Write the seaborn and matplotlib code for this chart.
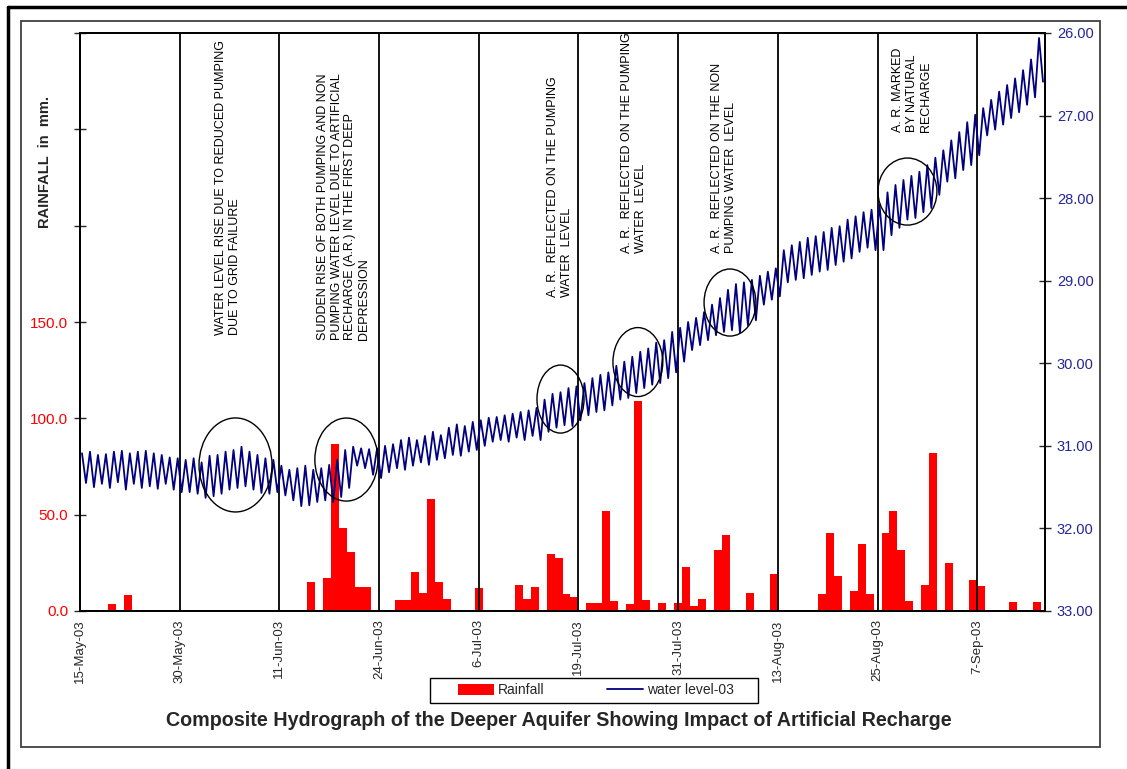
import numpy as np
import pandas as pd
import seaborn as sns
import matplotlib.pyplot as plt
from matplotlib.patches import Ellipse, Rectangle
from matplotlib.lines import Line2D

# category axis labels, one every 25 readings (two readings a day)
date_labels = ['15-May-03', '30-May-03', '11-Jun-03', '24-Jun-03', '6-Jul-03',
               '19-Jul-03', '31-Jul-03', '13-Aug-03', '25-Aug-03', '7-Sep-03']

# daily rainfall in mm, day 0 = 15-May-03
rainfall = [0, 0, 0, 3.6, 0, 8.3, 0, 0, 0, 0,
            0, 0, 0, 0, 0, 0, 0, 0, 0, 0,
            0, 0, 0, 0, 0, 0, 0, 0, 15.0, 0,
            17.1, 86.7, 43.1, 30.6, 12.5, 12.5, 0, 0, 0, 5.7,
            5.7, 20.2, 9.3, 58.1, 15.0, 6.2, 0, 0, 0, 11.9,
            0, 0, 0, 0, 13.5, 6.2, 12.5, 0, 29.6, 27.5,
            8.8, 7.3, 0, 4.2, 4.2, 51.9, 5.2, 0, 3.6, 109.0,
            5.7, 0, 4.2, 0, 4.2, 22.8, 2.6, 6.2, 0, 31.7,
            39.4, 0, 0, 9.3, 0, 0, 19.2, 0, 0, 0,
            0, 0, 8.8, 40.5, 18.2, 0, 10.4, 34.8, 8.8, 0,
            40.5, 51.9, 31.7, 5.2, 0, 13.5, 82.0, 0, 24.9, 0,
            0, 16.1, 13.0, 0, 0, 0, 4.7, 0, 0, 4.7,
            0]

# water level (m below ground), non pumping and pumping reading of each day
wl_non_pumping = [31.09, 31.07, 31.11, 31.10, 31.07, 31.06, 31.09, 31.07, 31.06, 31.09,
                  31.11, 31.14, 31.15, 31.17, 31.15, 31.20, 31.12, 31.11, 31.07, 31.05,
                  31.01, 31.07, 31.11, 31.15, 31.17, 31.24, 31.29, 31.27, 31.24, 31.29,
                  31.27, 31.23, 31.17, 31.05, 31.01, 31.03, 31.04, 31.03, 31.00, 30.98,
                  30.93, 30.90, 30.93, 30.88, 30.83, 30.87, 30.78, 30.74, 30.76, 30.71,
                  30.69, 30.66, 30.65, 30.63, 30.61, 30.59, 30.57, 30.54, 30.44, 30.37,
                  30.35, 30.30, 30.28, 30.24, 30.18, 30.14, 30.11, 30.03, 29.98, 29.92,
                  29.86, 29.82, 29.75, 29.72, 29.62, 29.57, 29.50, 29.45, 29.38, 29.29,
                  29.21, 29.11, 29.04, 29.02, 28.99, 28.94, 28.89, 28.85, 28.63, 28.57,
                  28.53, 28.48, 28.46, 28.41, 28.36, 28.34, 28.26, 28.22, 28.17, 28.14,
                  28.08, 27.93, 27.84, 27.78, 27.73, 27.68, 27.60, 27.51, 27.42, 27.30,
                  27.20, 27.08, 26.99, 26.91, 26.81, 26.71, 26.63, 26.55, 26.45, 26.32,
                  26.06]
wl_pumping = [31.45, 31.50, 31.46, 31.51, 31.44, 31.53, 31.46, 31.51, 31.49, 31.52,
              31.46, 31.53, 31.56, 31.56, 31.58, 31.63, 31.61, 31.58, 31.53, 31.51,
              31.49, 31.53, 31.57, 31.58, 31.56, 31.60, 31.66, 31.73, 31.72, 31.68,
              31.66, 31.68, 31.62, 31.51, 31.24, 31.27, 31.35, 31.39, 31.32, 31.27,
              31.29, 31.24, 31.20, 31.23, 31.17, 31.15, 31.11, 31.12, 31.07, 31.05,
              31.00, 30.95, 30.93, 30.95, 30.90, 30.93, 30.88, 30.93, 30.83, 30.78,
              30.75, 30.76, 30.69, 30.63, 30.59, 30.57, 30.51, 30.44, 30.42, 30.36,
              30.30, 30.26, 30.24, 30.18, 30.11, 29.98, 29.84, 29.78, 29.72, 29.66,
              29.62, 29.60, 29.63, 29.54, 29.48, 29.29, 29.23, 29.19, 29.02, 28.99,
              28.97, 28.93, 28.89, 28.87, 28.81, 28.77, 28.73, 28.65, 28.60, 28.63,
              28.63, 28.45, 28.36, 28.26, 28.24, 28.17, 28.12, 27.96, 27.80, 27.76,
              27.66, 27.60, 27.48, 27.24, 27.17, 27.11, 27.03, 26.96, 26.87, 26.78,
              26.59]

NAVY = '#000080'
TICK_BLUE = '#24249a'
NARROW = ['Liberation Sans Narrow', 'Liberation Sans', 'DejaVu Sans']

sns.set_style('white')
plt.rcParams['font.family'] = ['Liberation Sans', 'DejaVu Sans']

# one category per reading, rainfall repeated over the two readings of a day
rain_df = pd.DataFrame({'pos': np.arange(len(rainfall)) * 2 + 2,
                        'rain': rainfall})
levels = np.column_stack([wl_non_pumping, wl_pumping]).ravel()
wl_df = pd.DataFrame({'pos': np.arange(len(levels)) + 0.5, 'level': levels})
n_read = len(levels)

fig = plt.figure(figsize=(11.27, 7.69), dpi=100)
ax = fig.add_axes([80 / 1127, 1 - 611 / 769, 965 / 1127, 578 / 769])

sns.barplot(data=rain_df, x='pos', y='rain', native_scale=True, color='red',
            saturation=1, width=1.0, linewidth=0, errorbar=None, ax=ax)

ax.set_xlim(0, n_read)
ax.set_ylim(0, 300)
xt = np.arange(0, n_read, 25)[:len(date_labels)]
for t in xt:
    ax.axvline(t, color='black', lw=1.3, zorder=3)
ax.set_xticks(xt)
ax.set_xticklabels(date_labels, rotation=90, fontsize=9.5)
ax.set_yticks(range(0, 301, 50))
ax.set_yticklabels([f'{v:.1f}' if v <= 150 else '' for v in range(0, 301, 50)])
ax.tick_params(axis='x', direction='out', length=4, width=1, pad=2)
ax.tick_params(axis='y', direction='inout', length=9, width=1, labelsize=11,
               labelcolor='red', pad=4)
ax.set_xlabel('')
ax.set_ylabel('')

ax2 = ax.twinx()
sns.lineplot(data=wl_df, x='pos', y='level', ax=ax2, color=NAVY, lw=1.3,
             sort=False, estimator=None)
ax2.set_xlim(0, n_read)
ax2.set_ylim(33, 26)
ax2.set_yticks(range(26, 34))
ax2.set_yticklabels([f'{v:.2f}' for v in range(26, 34)])
ax2.tick_params(axis='y', direction='inout', length=9, width=1, labelsize=10.5,
                labelcolor=TICK_BLUE, pad=4)
ax2.set_ylabel('')
ax2.set_xlabel('')

for a in (ax, ax2):
    for s in a.spines.values():
        s.set_color('black')
        s.set_linewidth(1.3)

# annotations (in rainfall-axis coordinates)
notes = [
    (37.1, 143.2, 'WATER LEVEL RISE DUE TO REDUCED PUMPING\nDUE TO GRID FAILURE'),
    (66.1, 140.6, 'SUDDEN RISE OF BOTH PUMPING AND NON\nPUMPING WATER LEVEL DUE TO ARTIFICIAL\n'
                  'RECHARGE (A.R.) IN THE FIRST DEEP\nDEPRESSION'),
    (120.4, 162.9, 'A. R.  REFLECTED ON THE PUMPING\nWATER  LEVEL'),
    (138.9, 185.8, 'A. R.  REFLECTED ON THE PUMPING\nWATER  LEVEL'),
    (161.5, 185.8, 'A. R.  REFLECTED ON THE NON\nPUMPING WATER  LEVEL'),
    (208.7, 248.6, 'A. R. MARKED\nBY NATURAL\nRECHARGE'),
]
for x, y, txt in notes:
    ax2.text(x, y, txt, transform=ax.transData, rotation=90, ha='center',
             va='bottom', multialignment='left', fontsize=9, linespacing=1.2,
             color='black')

circles = [(39.0, 75.8, 18.3, 48.8), (66.8, 78.6, 15.8, 43.1),
           (120.5, 110.0, 11.8, 35.3), (139.9, 129.2, 12.5, 35.8),
           (163.0, 160.1, 13.0, 34.8), (207.5, 217.7, 14.8, 34.8)]
for cx, cy, w, h in circles:
    ax2.add_patch(Ellipse((cx, cy), w, h, transform=ax.transData,
                          fill=False, edgecolor='black', lw=1.0, zorder=5))

fig.text(45 / 1127, 1 - 162 / 769, 'RAINFALL  in  mm.', rotation=90,
         fontweight='bold', fontsize=10.5, ha='center', va='center')

# legend box drawn at its own size, entries centred inside
fig.add_artist(Rectangle((430 / 1127, 1 - 703 / 769), 328 / 1127, 25 / 769,
                         transform=fig.transFigure, facecolor='white',
                         edgecolor='black', lw=1.0))
handles = [Rectangle((0, 0), 1, 1, facecolor='red', edgecolor='none'),
           Line2D([0], [0], color=NAVY, lw=1.3)]
fig.legend(handles, ['Rainfall', 'water level-03'], ncol=2,
           loc='center', bbox_to_anchor=(596 / 1127, 1 - 690.5 / 769),
           frameon=False, prop={'family': NARROW, 'size': 10},
           handlelength=2.6, handleheight=0.8, handletextpad=0.3,
           columnspacing=4.5)

fig.text(559 / 1127, 1 - 721 / 769,
         'Composite Hydrograph of the Deeper Aquifer Showing Impact of Artificial Recharge',
         ha='center', va='center', fontsize=14.2, fontweight='bold', family=NARROW)

# chart frame
fig.add_artist(Rectangle((21 / 1127, 1 - 747 / 769), 1079 / 1127, 726 / 769,
                         transform=fig.transFigure, fill=False,
                         edgecolor='#404040', lw=1.3))
fig.add_artist(Line2D([8 / 1127, 8 / 1127], [0, 1 - 7 / 769],
                      transform=fig.transFigure, color='black', lw=2.5))
fig.add_artist(Line2D([8 / 1127, 1], [1 - 7 / 769, 1 - 7 / 769],
                      transform=fig.transFigure, color='black', lw=2.5))

fig.savefig('out.png', dpi=100)
